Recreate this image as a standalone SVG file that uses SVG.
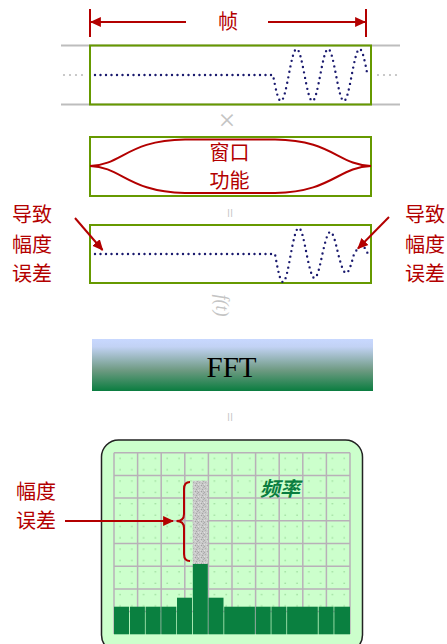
<svg xmlns="http://www.w3.org/2000/svg" width="447" height="644" viewBox="0 0 447 644">
<style>
.lbl{font-family:"Noto Sans CJK SC","Noto Sans",sans-serif;font-size:20px;fill:#b30000}
.box{fill:none;stroke:#669900;stroke-width:2}
.sig{fill:none;stroke:#1a1a6e;stroke-width:2.4;stroke-linecap:round;stroke-dasharray:0 5.5}
.gdot{fill:none;stroke:#bdbdbd;stroke-width:2.2;stroke-linecap:round;stroke-dasharray:0 6}
.red{fill:none;stroke:#b30000;stroke-width:2}
.op{font-family:"Liberation Serif",serif;fill:#c4c4c4}
.grid{stroke:#b8b0b8;stroke-width:1.5}
.bar{fill:#0a8040}
</style>
<defs>
<marker id="ah" viewBox="0 0 10 10" refX="9" refY="5" markerWidth="5.5" markerHeight="5.5" orient="auto-start-reverse" markerUnits="strokeWidth">
<path d="M0,0.5 L10,5 L0,9.5 Z" fill="#b30000"/>
</marker>
<linearGradient id="fftg" x1="0" y1="0" x2="0" y2="1">
<stop offset="0" stop-color="#c8d8ff"/>
<stop offset="0.15" stop-color="#c2d2f4"/>
<stop offset="0.6" stop-color="#6e9a82"/>
<stop offset="1" stop-color="#0a7d40"/>
</linearGradient>
<pattern id="cells" x="114" y="452.7" width="23.6" height="22.7" patternUnits="userSpaceOnUse">
<rect x="5.5" y="5.2" width="1" height="1" fill="#6cb86c"/>
<rect x="17.3" y="5.2" width="1" height="1" fill="#6cb86c"/>
<rect x="5.5" y="16.5" width="1" height="1" fill="#6cb86c"/>
<rect x="17.3" y="16.5" width="1" height="1" fill="#6cb86c"/>
</pattern>
<pattern id="noise" x="0" y="0" width="6" height="6" patternUnits="userSpaceOnUse">
<rect width="6" height="6" fill="#c8c8c8"/>
<rect x="0" y="0" width="1" height="1" fill="#a8a8a8"/>
<rect x="3" y="1" width="1" height="1" fill="#dadada"/>
<rect x="1" y="2" width="1" height="1" fill="#b0b0b0"/>
<rect x="4" y="3" width="1" height="1" fill="#a4a4a4"/>
<rect x="2" y="4" width="1" height="1" fill="#d8d8d8"/>
<rect x="5" y="5" width="1" height="1" fill="#b4b4b4"/>
<rect x="0" y="4" width="1" height="1" fill="#e0e0e0"/>
<rect x="5" y="1" width="1" height="1" fill="#acacac"/>
<rect x="2" y="0" width="1" height="1" fill="#d4d4d4"/>
<rect x="3" y="5" width="1" height="1" fill="#a0a0a0"/>
</pattern>
</defs>

<g id="frame-dimension">
<line x1="90" y1="9" x2="90" y2="37" class="red"/>
<line x1="366" y1="9" x2="366" y2="37" class="red"/>
<line x1="186" y1="22" x2="91" y2="22" class="red" marker-end="url(#ah)"/>
<line x1="268" y1="22" x2="365" y2="22" class="red" marker-end="url(#ah)"/>
<text x="228" y="29" text-anchor="middle" class="lbl" font-size="21">帧</text>
</g>

<g id="signal">
<line x1="61" y1="45.5" x2="400" y2="45.5" stroke="#bdbdbd" stroke-width="2"/>
<line x1="61" y1="104.5" x2="400" y2="104.5" stroke="#bdbdbd" stroke-width="2"/>
<rect x="90" y="45.5" width="281" height="59" fill="#fff" class="box"/>
<line x1="64" y1="75" x2="88" y2="75" class="gdot"/>
<line x1="378" y1="75" x2="400" y2="75" class="gdot"/>
<path class="sig" d="M95,75 H273 C275.571,88.33 278.038,101 280.875,101 S286.179,88.33 288.75,75 S293.788,49 296.625,49 S301.929,61.67 304.5,75 S309.538,101 312.375,101 S317.679,88.33 320.25,75 S325.288,49 328.125,49 S333.429,61.67 336,75 S341.038,101 343.875,101 S349.179,88.33 351.75,75 S356.788,49 359.625,49 S364.929,61.67 367.5,75"/>
</g>

<g id="op-times">
<text x="227" y="130" text-anchor="middle" class="op" font-size="30">×</text>
</g>

<g id="window">
<rect x="90" y="137" width="281" height="59" class="box"/>
<path class="red" d="M90,166 C122,165 128,140 185,139.5 L275,139.5 C332,140 338,165 371,166"/>
<path class="red" d="M90,166 C122,167 128,192 185,193 L275,193 C332,192 338,167 371,166"/>
<text x="229.5" y="160" text-anchor="middle" class="lbl">窗口</text>
<text x="229.5" y="188" text-anchor="middle" class="lbl">功能</text>
</g>

<g id="op-eq1">
<text x="0" y="0" transform="translate(223.5,213) rotate(90)" text-anchor="middle" class="op" font-size="17">=</text>
</g>

<g id="windowed">
<rect x="90" y="225" width="281" height="58" class="box"/>
<path class="sig" d="M95,254 H275 C277.58,268.36 280.05,282 282.9,282 C285.75,282 288.22,268.36 290.8,254 C293.38,240.67 295.85,228 298.7,228 C301.55,228 304.02,240.67 306.6,254 C309.18,266.31 311.65,278 314.5,278 C317.35,278 319.82,266.31 322.4,254 C324.98,242.72 327.45,232 330.3,232 C333.15,232 335.62,242.72 338.2,254 C340.78,263.74 343.25,273 346.1,273 C348.95,273 351.42,263.74 354,254 C356.58,249.9 359.05,246 361.9,246 C364.2,246 366,249.9 368,254"/>
</g>

<g id="label-left">
<text x="32" y="222" text-anchor="middle" class="lbl">导致</text>
<text x="32" y="252" text-anchor="middle" class="lbl">幅度</text>
<text x="32" y="281" text-anchor="middle" class="lbl">误差</text>
</g>
<g id="label-right">
<text x="405" y="222" class="lbl">导致</text>
<text x="405" y="252" class="lbl">幅度</text>
<text x="405" y="281" class="lbl">误差</text>
</g>

<g id="op-ft">
<text x="0" y="0" transform="translate(216,305.5) rotate(90)" text-anchor="middle" class="op" font-size="18" font-style="italic">f(t)</text>
</g>

<g id="fft">
<rect x="92" y="339" width="281" height="52" fill="url(#fftg)"/>
<text x="231.5" y="376.5" text-anchor="middle" font-family="Liberation Serif,serif" font-size="29" fill="#000">FFT</text>
</g>

<g id="op-eq2">
<text x="0" y="0" transform="translate(223.5,417) rotate(90)" text-anchor="middle" class="op" font-size="17">=</text>
</g>

<g id="spectrum">
<rect x="101.5" y="440" width="261" height="212" rx="17" fill="#ccffcc" stroke="#222" stroke-width="1.5"/>
<rect x="114" y="452.7" width="236" height="181.6" fill="url(#cells)"/>
<g class="grid">
<line x1="114" y1="452.7" x2="114" y2="634"/>
<line x1="137.6" y1="452.7" x2="137.6" y2="634"/>
<line x1="161.2" y1="452.7" x2="161.2" y2="634"/>
<line x1="184.8" y1="452.7" x2="184.8" y2="634"/>
<line x1="208.4" y1="452.7" x2="208.4" y2="634"/>
<line x1="232" y1="452.7" x2="232" y2="634"/>
<line x1="255.6" y1="452.7" x2="255.6" y2="634"/>
<line x1="279.2" y1="452.7" x2="279.2" y2="634"/>
<line x1="302.8" y1="452.7" x2="302.8" y2="634"/>
<line x1="326.4" y1="452.7" x2="326.4" y2="634"/>
<line x1="350" y1="452.7" x2="350" y2="634"/>
<line x1="114" y1="452.7" x2="350" y2="452.7"/>
<line x1="114" y1="475.4" x2="350" y2="475.4"/>
<line x1="114" y1="498.1" x2="350" y2="498.1"/>
<line x1="114" y1="520.8" x2="350" y2="520.8"/>
<line x1="114" y1="543.5" x2="350" y2="543.5"/>
<line x1="114" y1="566.2" x2="350" y2="566.2"/>
<line x1="114" y1="588.9" x2="350" y2="588.9"/>
<line x1="114" y1="611.6" x2="350" y2="611.6"/>
</g>
<rect x="192.7" y="480.7" width="15.1" height="83.3" fill="url(#noise)"/>
<rect class="bar" x="114" y="606.7" width="15" height="27.6"/>
<rect class="bar" x="129.9" y="606.7" width="15" height="27.6"/>
<rect class="bar" x="145.6" y="606.7" width="15" height="27.6"/>
<rect class="bar" x="161.3" y="606.7" width="15" height="27.6"/>
<rect class="bar" x="177" y="597.7" width="15" height="36.6"/>
<rect class="bar" x="192.8" y="564" width="15" height="70.3"/>
<rect class="bar" x="208.5" y="597.7" width="15" height="36.6"/>
<rect class="bar" x="224.2" y="606.7" width="30.7" height="27.6"/>
<rect class="bar" x="255.7" y="606.7" width="15" height="27.6"/>
<rect class="bar" x="271.4" y="606.7" width="15" height="27.6"/>
<rect class="bar" x="287.1" y="606.7" width="30.7" height="27.6"/>
<rect class="bar" x="318.6" y="606.7" width="15" height="27.6"/>
<rect class="bar" x="334.3" y="606.7" width="15.7" height="27.6"/>
<text x="280" y="496" text-anchor="middle" font-family="Noto Sans CJK SC,sans-serif" font-size="20" font-weight="bold" font-style="italic" fill="#0a7d40">频率</text>
<path class="red" d="M190,482 Q184,482 184,489 L184,514 Q184,521 176.5,521 Q184,521 184,528 L184,554 Q184,561 190,561"/>
</g>

<g id="connectors">
<line x1="75" y1="218" x2="102.5" y2="250" class="red" marker-end="url(#ah)"/>
<line x1="389" y1="217" x2="358" y2="248.5" class="red" marker-end="url(#ah)"/>
<line x1="65" y1="521" x2="173" y2="521" class="red" marker-end="url(#ah)"/>
</g>

<g id="label-bottom">
<text x="36" y="499" text-anchor="middle" class="lbl">幅度</text>
<text x="36" y="528" text-anchor="middle" class="lbl">误差</text>
</g>
</svg>
